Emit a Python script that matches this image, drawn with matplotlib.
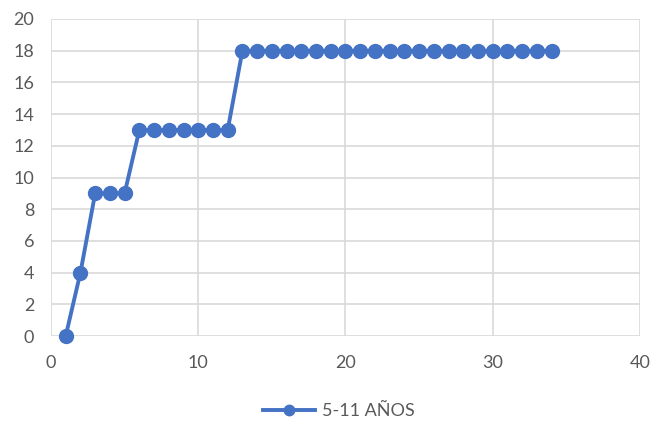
import matplotlib
matplotlib.use("Agg")
import matplotlib.pyplot as plt

x_values = list(range(1, 35))
y_values = [0, 4, 9, 9, 9, 13, 13, 13, 13, 13, 13, 13] + [18] * 22
series_name = "5-11 AÑOS"
x_ticks = [0, 10, 20, 30, 40]
y_ticks = [0, 2, 4, 6, 8, 10, 12, 14, 16, 18, 20]

plt.rcParams['font.family'] = ['Lato', 'DejaVu Sans']
fig = plt.figure(figsize=(6.52, 4.25), dpi=100)
ax = fig.add_axes([0.0782, 0.2094, 0.9034, 0.7459])
ax.plot(x_values, y_values, color='#4472C4', lw=2.8, marker='o', ms=10,
        label=series_name, zorder=3, clip_on=False)
ax.set_xlim(0, 40)
ax.set_ylim(0, 20)
ax.set_xticks(x_ticks)
ax.set_yticks(y_ticks)
ax.grid(True, color='#D9D9D9', lw=1.2)
ax.set_axisbelow(True)
for s in ax.spines.values():
    s.set_visible(False)
ax.tick_params(length=0, labelsize=13, labelcolor='#595959')
ax.tick_params(axis='x', pad=14)
ax.tick_params(axis='y', pad=12)
fig.legend(loc='center', bbox_to_anchor=(0.52, 0.033), frameon=False,
           fontsize=13, labelcolor='#595959', handlelength=2.9,
           markerscale=0.75, handletextpad=0.4)
fig.savefig('out.png', dpi=100)
